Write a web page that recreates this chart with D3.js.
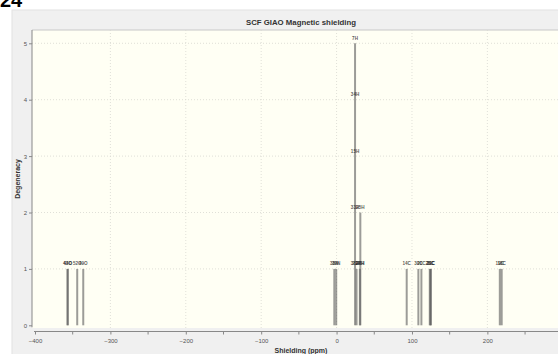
<!DOCTYPE html>
<html>
<head>
<meta charset="utf-8">
<script src="https://cdn.jsdelivr.net/npm/d3@7"></script>
<style>
  html, body { margin: 0; padding: 0; background: #ffffff; }
  svg { display: block; }
</style>
</head>
<body>
<svg id="chart" width="558" height="354"></svg>
<script>
// ---- data ----
const chartTitle = "SCF GIAO Magnetic shielding";
const xTitle = "Shielding (ppm)";
const yTitle = "Degeneracy";
const figureLabel = "24";
// atoms and their isotropic shielding (ppm); equal shielding -> stacked (degeneracy)
const atomLabels = ["43O", "44O", "52O", "49O",
                    "38N", "39N",
                    "36H", "33H", "15H", "34H", "7H",
                    "21H", "26H", "25H", "27H",
                    "14C", "30C", "20C", "28C", "29C", "31C",
                    "19C", "18C"];
const atomShielding = [-357.0, -356.4, -344.0, -336.0,
                       -3.0, -0.5,
                       24.5, 24.5, 24.5, 24.5, 24.5,
                       26.5, 31.5, 31.5, 30.9,
                       93.0, 108.5, 112.5, 123.6, 124.4, 125.2,
                       216.5, 219.0];
const xTicks = [-400, -300, -200, -100, 0, 100, 200];
const xMinorTicks = [-350, -250, -150, -50, 50, 150, 250];
const yTicks = [0, 1, 2, 3, 4, 5];

// ---- group into degenerate lines ----
const groups = d3.groups(atomLabels.map((l, i) => ({label: l, ppm: atomShielding[i]})), d => d.ppm)
  .map(([ppm, atoms]) => ({ppm, atoms}));

// ---- layout ----
const svg = d3.select("#chart");
const W = 558, H = 354;
const x = d3.scaleLinear().domain([-400, 310]).range([35, 570.3]);
const y = d3.scaleLinear().domain([0, 5]).range([325.3, 43.3]);
const plot = {l: 32, t: 30, r: 570, b: 328};
const FONT = "Liberation Sans, Arial, sans-serif";

// figure label (cut off at top, as in the source)
svg.append("text").attr("x", 0).attr("y", 7)
  .attr("font-family", FONT)
  .attr("font-weight", "bold").attr("font-size", 20).attr("fill", "#000")
  .text(figureLabel);

// gray panel
svg.append("rect").attr("x", 12).attr("y", 10).attr("width", W).attr("height", H)
  .attr("fill", "#f0f0f0").attr("stroke", "#e2e2e2");

// title
svg.append("text").attr("x", 301).attr("y", 24.5).attr("text-anchor", "middle")
  .attr("font-family", FONT).attr("font-weight", "bold")
  .attr("font-size", 7.8).attr("fill", "#333").text(chartTitle);

// plot area
svg.append("rect").attr("x", plot.l).attr("y", plot.t)
  .attr("width", plot.r - plot.l).attr("height", plot.b - plot.t)
  .attr("fill", "#fffff4");
svg.append("line").attr("x1", plot.l).attr("x2", plot.r).attr("y1", plot.t).attr("y2", plot.t)
  .attr("stroke", "#c8c8c8");

// grid
const grid = svg.append("g").attr("stroke", "#d8d8d0").attr("stroke-dasharray", "1,2").attr("stroke-width", 0.8);
grid.selectAll("line.v").data(xTicks.filter(t => t > -400).concat([300])).join("line")
  .attr("x1", d => x(d)).attr("x2", d => x(d)).attr("y1", plot.t).attr("y2", plot.b);
grid.selectAll("line.h").data(yTicks.filter(t => t > 0)).join("line")
  .attr("x1", plot.l).attr("x2", plot.r).attr("y1", d => y(d)).attr("y2", d => y(d));

// spectrum lines (one per distinct shielding; near lines darken where they overlap)
const lines = svg.append("g");
lines.selectAll("line").data(groups).join("line")
  .attr("x1", d => x(d.ppm)).attr("x2", d => x(d.ppm))
  .attr("y1", y(0)).attr("y2", d => y(d.atoms.length))
  .attr("stroke", "#5a5a5a").attr("stroke-opacity", 0.6).attr("stroke-width", 2);

// labels stacked at each level
const labs = svg.append("g").attr("font-family", FONT)
  .attr("font-size", 4.6).attr("font-weight", "bold").attr("text-anchor", "middle");
groups.forEach(g => {
  g.atoms.forEach((a, i) => {
    labs.append("text").attr("x", x(g.ppm)).attr("y", y(i + 1) - 3.5)
      .attr("fill", "#222").attr("fill-opacity", 0.75).text(a.label);
  });
});

// y axis
const yAxis = d3.axisLeft(y).tickValues(yTicks).tickFormat(d3.format("d")).tickSize(3).tickPadding(2);
const gy = svg.append("g").attr("transform", `translate(${plot.l},0)`).call(yAxis);
gy.select(".domain").attr("d", `M0,${plot.t}V${y(0) + 2}`).attr("stroke", "#888");
gy.selectAll(".tick line").attr("stroke", "#888");
gy.selectAll("text").attr("font-size", 6).attr("fill", "#555").attr("font-family", FONT);

// x axis
const xAxis = d3.axisBottom(x).tickValues(xTicks).tickFormat(d3.format("d")).tickSize(3).tickPadding(4);
const gx = svg.append("g").attr("transform", `translate(0,331.5)`).call(xAxis);
gx.select(".domain").attr("d", `M${x(-400) - 1},0H${W + 10}`).attr("stroke", "#888");
gx.selectAll(".tick line").attr("stroke", "#888");
gx.selectAll("text").attr("font-size", 6).attr("fill", "#555").attr("font-family", FONT);
gx.selectAll("line.minor").data(xMinorTicks).join("line").attr("class", "minor")
  .attr("x1", d => x(d)).attr("x2", d => x(d)).attr("y1", 0).attr("y2", 3).attr("stroke", "#888");

// axis titles
svg.append("text").attr("x", 301).attr("y", 353).attr("text-anchor", "middle")
  .attr("font-family", FONT).attr("font-weight", "bold")
  .attr("font-size", 7).attr("fill", "#333").text(xTitle);
svg.append("text").attr("transform", "translate(19.5,179) rotate(-90)").attr("text-anchor", "middle")
  .attr("font-family", FONT).attr("font-weight", "bold")
  .attr("font-size", 7).attr("fill", "#333").text(yTitle);
</script>
</body>
</html>
